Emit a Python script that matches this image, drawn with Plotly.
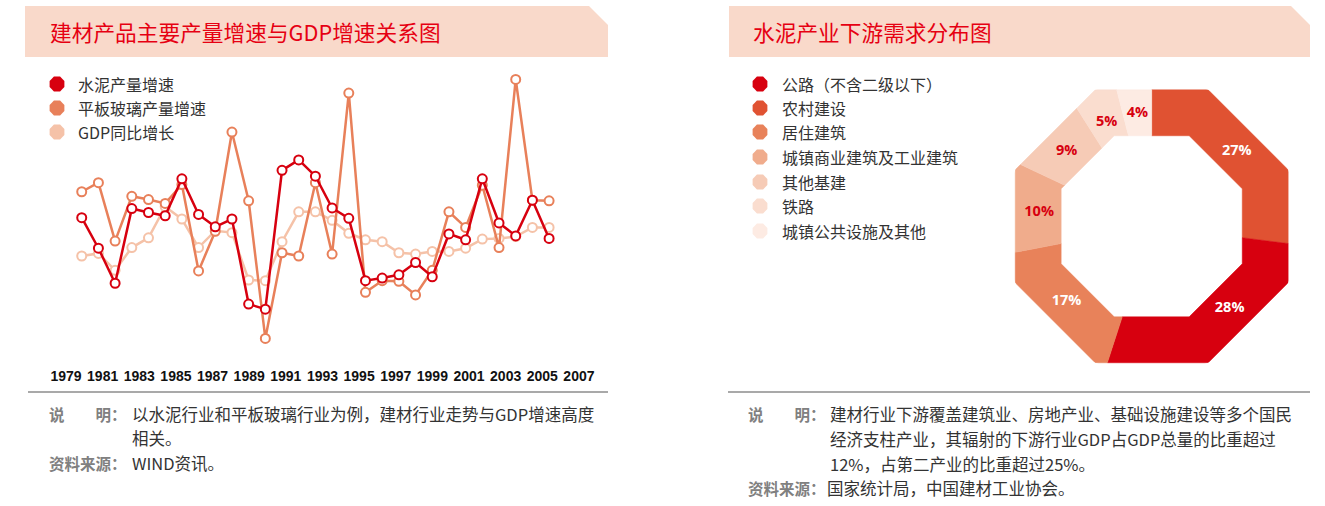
import math

import plotly.graph_objects as go

W, H = 1325, 506

# ---- left chart: growth rates (%) ----
years = list(range(1979, 2008))
cement = [13.5, 8.8, 3.4, 14.9, 14.3, 13.8, 19.5, 14.0, 12.1, 13.3, 0.2, -0.6, 20.8, 22.4, 19.9,
          15.0, 13.4, 3.8, 4.2, 4.7, 6.6, 4.4, 11.0, 10.1, 19.5, 12.7, 10.7, 16.2, 10.3]
glass = [17.5, 18.9, 9.9, 16.8, 16.3, 15.7, 18.6, 5.3, 11.4, 26.7, 16.1, -5.1, 8.1, 7.6, 18.9,
         7.9, 32.7, 2.0, 3.8, 3.7, 1.6, 5.4, 14.4, 12.0, 18.5, 8.9, 34.8, 16.2, 16.1]
gdp = [7.6, 8.0, 5.4, 8.9, 10.4, 15.2, 13.3, 8.9, 11.5, 11.2, 3.9, 3.8, 9.8, 14.4, 14.4,
       13.1, 11.1, 10.1, 9.8, 8.1, 7.9, 8.3, 8.3, 8.8, 10.2, 10.3, 10.6, 12.0, 12.0]
series_names = ["水泥产量增速", "平板玻璃产量增速", "GDP同比增长"]
series_values = [cement, glass, gdp]
line_colors = ["#D7000F", "#E8805A", "#F5C2A8"]
year_ticks = list(range(1979, 2008, 2))

# ---- right chart: cement downstream demand (%) ----
demand_labels = ["公路（不含二级以下）", "农村建设", "居住建筑", "城镇商业建筑及工业建筑",
                 "其他基建", "铁路", "城镇公共设施及其他"]
demand_share = [28, 27, 17, 10, 9, 5, 4]
demand_colors = ["#D7000F", "#E05232", "#E8825A", "#F0AC8C", "#F6CBB6", "#FADDCF", "#FDEBE3"]
ring_order = [1, 0, 2, 3, 4, 5, 6]  # clockwise from 12 o'clock
label_colors = ["white", "white", "white", "#D7000F", "#D7000F", "#D7000F", "#D7000F"]

CJK = "Noto Sans CJK SC"
RED = "#E60012"
BAR = "#F9D9CA"


def fx(p):
    return p / W


def fy(p):
    return 1 - p / H


def oct_r(theta, apothem):
    # distance to a flat-topped octagon edge at angle theta (deg, clockwise from top)
    d = ((theta + 22.5) % 45) - 22.5
    return apothem / math.cos(math.radians(d))


fig = go.Figure()

# lines (GDP underneath, cement on top)
for name, vals, col in reversed(list(zip(series_names, series_values, line_colors))):
    fig.add_trace(go.Scatter(
        x=years, y=vals, mode="lines+markers", name=name,
        line=dict(color=col, width=2.5),
        marker=dict(symbol="circle", size=9, color="white", line=dict(color=col, width=2)),
        xaxis="x", yaxis="y", showlegend=False,
    ))

# invisible carrier so the year-label axis gets drawn
fig.add_trace(go.Scatter(
    x=year_ticks, y=[0] * len(year_ticks), mode="markers", marker=dict(opacity=0),
    xaxis="x2", yaxis="y", hoverinfo="skip", showlegend=False,
))

# octagonal ring, one filled polar outline per slice
A_OUT, A_IN = 0.924, 0.613
cum = 0
mids, texts, tcols = [], [], []
for i in ring_order:
    a0 = cum * 3.6
    a1 = (cum + demand_share[i]) * 3.6
    angs = [a0] + [v for v in (22.5 + 45 * k for k in range(9)) if a0 < v < a1] + [a1]
    th = angs + angs[::-1] + [a0]
    rr = [oct_r(t, A_OUT) for t in angs] + [oct_r(t, A_IN) for t in angs[::-1]] + [oct_r(a0, A_OUT)]
    fig.add_trace(go.Scatterpolar(
        r=rr, theta=th, mode="lines", fill="toself", fillcolor=demand_colors[i],
        line=dict(color=demand_colors[i], width=0.5), name=demand_labels[i],
        hoverinfo="name", showlegend=False, subplot="polar",
    ))
    mid = (a0 + a1) / 2
    if i == 0:
        mid -= 11  # label sits a little ahead of the slice centre in the original
    mids.append(mid)
    texts.append(f"{demand_share[i]}%")
    tcols.append(label_colors[i])
    cum += demand_share[i]

fig.add_trace(go.Scatterpolar(
    r=[0.768] * len(texts), theta=mids, mode="text", text=texts,
    textfont=dict(family="Open Sans", size=14.5, color=tcols, weight="bold"),
    hoverinfo="skip", showlegend=False, subplot="polar",
))

# legend markers on a page-sized helper axis
fig.add_trace(go.Scatter(
    x=[57] * 3, y=[84, 108, 132], mode="markers",
    marker=dict(symbol="octagon", size=16, color=line_colors, line=dict(width=0)),
    xaxis="x3", yaxis="y3", hoverinfo="skip", showlegend=False,
))
right_leg_y = [84, 108, 132, 157, 182, 206, 231]
fig.add_trace(go.Scatter(
    x=[760] * 7, y=right_leg_y, mode="markers",
    marker=dict(symbol="octagon", size=16, color=demand_colors, line=dict(width=0)),
    xaxis="x3", yaxis="y3", hoverinfo="skip", showlegend=False,
))

ann = []


def text(x, y, s, size=16, color="#333333", bold=False, family=CJK):
    ann.append(dict(
        x=fx(x), y=fy(y), xref="paper", yref="paper", text=s, showarrow=False,
        xanchor="left", yanchor="middle",
        font=dict(family=family, size=size, color=color, weight="bold" if bold else "normal"),
    ))


# titles
text(48, 32, "建材产品主要产量增速与GDP增速关系图", size=21.7, color=RED)
text(751, 32, "水泥产业下游需求分布图", size=21.7, color=RED)

# legends
for name, y in zip(series_names, [84, 108, 132]):
    text(76, y, name)
for name, y in zip(demand_labels, right_leg_y):
    text(780, y, name)

# notes
GRAY = "#808080"
text(47, 414, "说　　明：", size=15.5, color=GRAY, bold=True)
text(130, 414, "以水泥行业和平板玻璃行业为例，建材行业走势与GDP增速高度", size=16.5)
text(130, 438, "相关。", size=16.5)
text(47, 463, "资料来源：", size=15.5, color=GRAY, bold=True)
text(130, 463, "WIND资讯。", size=16.5)

text(746, 414, "说　　明：", size=15.5, color=GRAY, bold=True)
text(828, 414, "建材行业下游覆盖建筑业、房地产业、基础设施建设等多个国民", size=16.5)
text(828, 439, "经济支柱产业，其辐射的下游行业GDP占GDP总量的比重超过", size=16.5)
text(828, 464, "12%，占第二产业的比重超过25%。", size=16.5)
text(746, 488, "资料来源：", size=15.5, color=GRAY, bold=True)
text(825, 488, "国家统计局，中国建材工业协会。", size=16.5)


def bar_path(x0, x1, y0, y1, cut):
    pts = [(x0, y0), (x1 - cut, y0), (x1, y0 + cut), (x1, y1), (x0, y1)]
    return "M " + " L ".join(f"{fx(a):.5f},{fy(b):.5f}" for a, b in pts) + " Z"


shapes = [
    dict(type="path", xref="paper", yref="paper", path=bar_path(25, 608, 6, 57, 19),
         fillcolor=BAR, line=dict(width=0), layer="below"),
    dict(type="path", xref="paper", yref="paper", path=bar_path(729, 1310, 6, 57, 19),
         fillcolor=BAR, line=dict(width=0), layer="below"),
    dict(type="line", xref="paper", yref="paper", x0=fx(28), x1=fx(608), y0=fy(392), y1=fy(392),
         line=dict(color="#8C8C8C", width=1.5)),
    dict(type="line", xref="paper", yref="paper", x0=fx(728), x1=fx(1310), y0=fy(392), y1=fy(392),
         line=dict(color="#8C8C8C", width=1.5)),
]

fig.update_layout(
    width=W, height=H,
    margin=dict(l=0, r=0, t=0, b=0),
    paper_bgcolor="white", plot_bgcolor="rgba(0,0,0,0)",
    showlegend=False,
    xaxis=dict(domain=[fx(40), fx(600)], range=[1976.5, 2010.05], visible=False),
    yaxis=dict(domain=[fy(366), fy(60)], range=[-9.35, 37.8], visible=False),
    xaxis2=dict(overlaying="x", anchor="y", range=[1977.58, 2008.15],
                tickmode="array", tickvals=year_ticks, ticktext=[str(t) for t in year_ticks],
                showgrid=False, zeroline=False, showline=False, ticks="",
                tickfont=dict(family="Liberation Sans", size=14, color="#111111", weight="bold")),
    xaxis3=dict(domain=[0, 1], range=[0, W], visible=False, anchor="y3"),
    yaxis3=dict(domain=[0, 1], range=[H, 0], visible=False, anchor="x3"),
    polar=dict(
        domain=dict(x=[fx(1004), fx(1299.4)], y=[fy(374), fy(78.6)]),
        bgcolor="rgba(0,0,0,0)",
        radialaxis=dict(visible=False, range=[0, 1]),
        angularaxis=dict(visible=False, rotation=90, direction="clockwise"),
    ),
    shapes=shapes,
    annotations=ann,
)

fig.write_html("out.html", config={"displayModeBar": False},
               post_script="document.body.style.margin = '0px';")
